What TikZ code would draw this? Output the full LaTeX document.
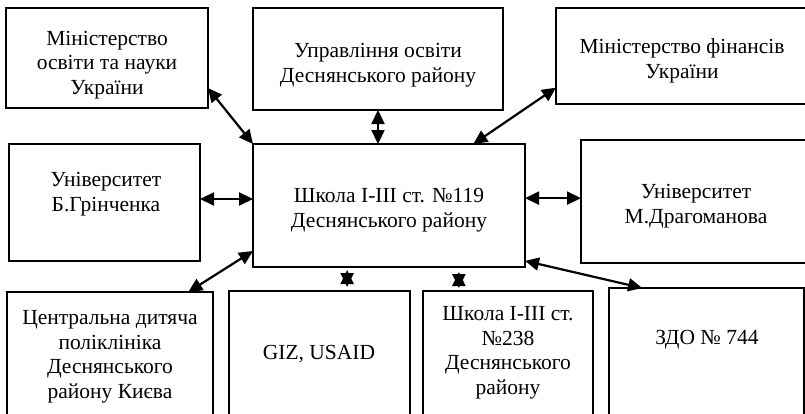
\documentclass[tikz,border=0pt]{standalone}
\usepackage{fontspec}
\setmainfont{Liberation Serif}
\usetikzlibrary{arrows.meta,calc}
\begin{document}
\begin{tikzpicture}[x=1pt,y=-1pt,
  box/.style={draw, line width=2.8pt, inner sep=0pt, outer sep=0pt},
  txt/.style={align=center, inner sep=0pt, font=\fontsize{21.5}{24.5}\selectfont},
  conn/.style={line width=2.2pt, {Triangle[length=14pt,width=13pt]}-{Triangle[length=14pt,width=13pt]}}]
\useasboundingbox (0,0) rectangle (805,413);
\clip (0,0) rectangle (805,413);
\fill[white] (0,0) rectangle (805,413);
% boxes
\node[box, minimum width=202pt, minimum height=100pt] (b1) at (107,58) {};
\node[box, minimum width=250pt, minimum height=102pt] (b2) at (378,59) {};
\node[box, minimum width=252pt, minimum height=96pt] (b3) at (682,56) {};
\node[box, minimum width=191pt, minimum height=117pt] (b4) at (104.5,202.5) {};
\node[box, minimum width=272pt, minimum height=123pt] (c) at (389,205.5) {};
\node[box, minimum width=230pt, minimum height=123pt] (b6) at (696,201.5) {};
\node[box, minimum width=206pt, minimum height=148pt] (b7) at (110,366) {};
\node[box, minimum width=181pt, minimum height=149pt] (b8) at (319.5,365.5) {};
\node[box, minimum width=170pt, minimum height=149pt] (b9) at (508,365.5) {};
\node[box, minimum width=195pt, minimum height=152pt] (b10) at (706.5,364) {};
% texts
\node[txt] (t1) at (107,65) {Міністерство\\освіти та науки\\України};
\node[txt] (t2) at (378,65) {Управління освіти\\Деснянського району};
\node[txt] (t3) at (682,61) {Міністерство фінансів\\України};
\node[txt] (t4) at (106,194) {Університет\\Б.Грінченка};
\node[txt] (t5) at (389,210) {Школа І-ІІІ ст. №119\\Деснянського району};
\node[txt] (t6) at (696,206) {Університет\\М.Драгоманова};
\node[txt] (t7) at (110,357) {Центральна дитяча\\поліклініка\\Деснянського\\району Києва};
\node[txt] (t8) at (319,354) {GIZ, USAID};
\node[txt] (t9) at (508,353) {Школа І-ІІІ ст.\\№238\\Деснянського\\району};
\node[txt] (t10) at (707,340) {ЗДО № 744};
% connectors
\coordinate (a1) at ($(b1.north east)!0.8!(b1.south east)$);
\draw[conn] (a1) -- (c.north west);
\draw[conn] (b2.south) -- (b2.south |- c.north);
\coordinate (a3s) at ($(b3.north west)!0.83!(b3.south west)$);
\coordinate (a3e) at ($(c.north west)!0.81!(c.north east)$);
\draw[conn] (a3s) -- (a3e);
\coordinate (a4) at ($(b4.north east)!0.47!(b4.south east)$);
\draw[conn] (a4) -- (a4 -| c.west);
\coordinate (a5) at ($(c.north east)!0.44!(c.south east)$);
\draw[conn] (a5) -- (a5 -| b6.west);
\coordinate (a6s) at ($(c.north west)!0.87!(c.south west)$);
\coordinate (a6e) at ($(b7.north west)!0.88!(b7.north east)$);
\draw[conn] (a6s) -- (a6e);
\coordinate (a7s) at ($(c.north east)!0.95!(c.south east)$);
\coordinate (a7e) at ($(b10.north west)!0.17!(b10.north east)$);
\draw[conn] (a7s) -- (a7e);
% stars (overlapping double arrows)
\coordinate (s1) at ($(c.south west)!0.346!(c.south east)$);
\draw[conn, shorten <=3pt, shorten >=4pt] (s1) -- (s1 |- b8.north);
\coordinate (s2) at ($(c.south west)!0.757!(c.south east)$);
\draw[conn, shorten <=5pt, shorten >=3pt] (s2) -- (s2 |- b9.north);
\end{tikzpicture}
\end{document}
